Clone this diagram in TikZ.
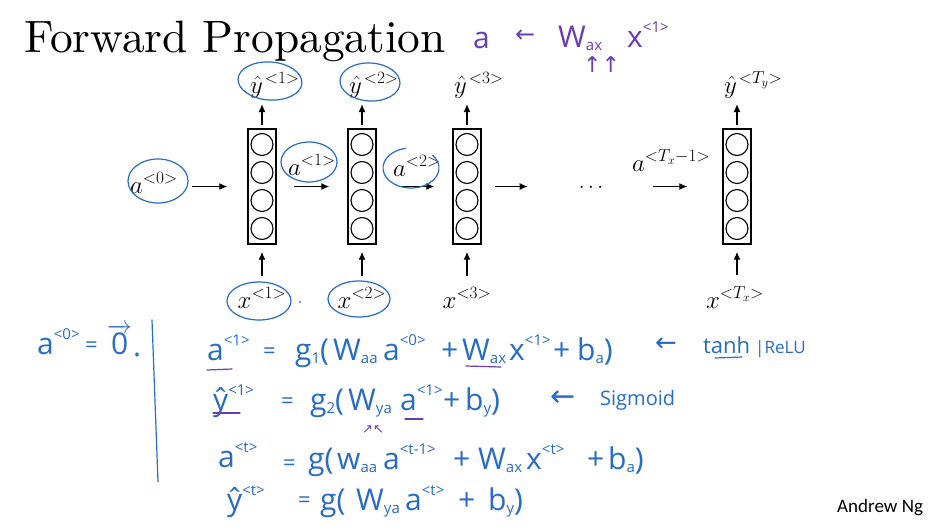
\documentclass[tikz,border=0pt]{standalone}
\usepackage{fontspec}
\newfontfamily\hw{Open Sans}
\newfontfamily\ngf{Carlito}
\newfontfamily\arrf{DejaVu Sans}
\newfontfamily\titlef{lmroman10-regular.otf}
\usetikzlibrary{arrows.meta}
\DeclareMathSizes{27}{27}{17}{12}
\definecolor{hblue}{RGB}{40,108,196}
\definecolor{hpurp}{RGB}{104,62,178}
\newcommand\hsp[1]{\raisebox{15pt}{\fontsize{15}{15}\selectfont #1}}
\newcommand\hsb[1]{\raisebox{-3pt}{\fontsize{15}{15}\selectfont #1}}
\begin{document}
\begin{tikzpicture}[x=1pt,y=-1pt,
  cellbox/.style={draw, line width=1.4pt, minimum width=28pt, minimum height=115pt, inner sep=0pt},
  neuron/.style={draw, circle, line width=1.1pt, minimum size=22pt, inner sep=0pt},
  arr/.style={-{Latex[length=8pt,width=7pt]}, line width=1.3pt},
  lbl/.style={font=\fontsize{27}{30}\selectfont, inner sep=0pt, anchor=base west},
  hwt/.style={text=hblue, inner sep=0pt, anchor=base west, font=\hw\fontsize{30}{34}\selectfont},
  hwp/.style={hwt, text=hpurp},
  heq/.style={hwt, font=\hw\fontsize{22}{22}\selectfont},
  harr/.style={hwt, font=\arrf\fontsize{26}{26}\selectfont},
  ring/.style={draw=hblue, line width=1.2pt},
  hmark/.style={line width=1.2pt, line cap=round}]
\fill[white] (0,0) rectangle (930,531);
\useasboundingbox (0,0) rectangle (930,531);

% title
\node[anchor=base west, inner sep=0pt, font=\titlef\fontsize{45.4}{50}\selectfont] (title) at (24,52) {Forward Propagation};
\node[anchor=base west, inner sep=0pt, font=\ngf\fontsize{19}{22}\selectfont] (ng) at (837,512) {Andrew Ng};

% cells
\foreach \i/\x in {1/262,2/362,3/467,4/737}{
  \node[cellbox] (c\i) at (\x,186.5) {};
  \foreach \j/\dy in {1/-42,2/-14,3/14,4/42}
    \node[neuron] (c\i n\j) at (\x,{186.5+\dy}) {};
}

% labels
\node[lbl] (y1) at (250,93) {$\hat{y}^{\mkern2mu<1>}$};
\node[lbl] (y2) at (349,93) {$\hat{y}^{\mkern2mu<2>}$};
\node[lbl] (y3) at (454,93) {$\hat{y}^{\mkern2mu<3>}$};
\node[lbl] (y4) at (724,93) {$\hat{y}^{\mkern2mu<T_y>}$};
\node[lbl, anchor=base] (x1) at (262,308) {$x^{<1>}$};
\node[lbl, anchor=base] (x2) at (362,308) {$x^{<2>}$};
\node[lbl, anchor=base] (x3) at (467,308) {$x^{<3>}$};
\node[lbl, anchor=base] (x4) at (735,308) {$x^{<T_x>}$};
\node[lbl] (a0) at (130,193) {$a^{<0>}$};
\node[lbl] (a1) at (288,175) {$a^{<1>}$};
\node[lbl] (a2) at (393,176) {$a^{<2>}$};
\node[lbl] (aT) at (632,171) {$a^{<T_x-1>}$};
\node[inner sep=0pt, font=\fontsize{22}{22}\selectfont] (dots) at (591,188) {$\cdots$};

% arrows
\foreach \i in {1,2,3,4}{
  \draw[arr, shorten <=3pt, shorten >=6pt] (c\i.north) -- (c\i.north |- y\i.south);
  \draw[arr, shorten <=12pt, shorten >=7pt] (c\i.south |- x\i.north) -- (c\i.south);
}
\draw[arr, shorten <=14pt, shorten >=20pt] (c1.west -| a0.east) -- (c1.west);
\draw[arr, shorten <=17pt, shorten >=18pt] (c1.east) -- (c2.west);
\draw[arr, shorten <=24pt, shorten >=18pt] (c2.east) -- (c3.west);
\draw[arr, shorten <=13pt, shorten >=51pt] (c3.east) -- (c3.east -| dots.west);
\draw[arr, shorten <=50pt, shorten >=35pt] (c4.west -| dots.east) -- (c4.west);

% hand-drawn rings
\draw[ring, rotate around={-4:(270,81)}] (270,81) ellipse [x radius=32, y radius=19];
\draw[ring, rotate around={-3:(370,82)}] (370,82) ellipse [x radius=30, y radius=19];
\draw[ring] (158,181) ellipse [x radius=30, y radius=22];
\draw[ring] (309,162) ellipse [x radius=28, y radius=20];
\draw[ring] (411,168) ++({28*cos(-40)},{20*sin(-40)}) arc[start angle=-40, end angle=260, x radius=28, y radius=20];
\draw[ring] (259,301) ellipse [x radius=32, y radius=19];
\draw[ring] (359,299) ellipse [x radius=31, y radius=18];
\fill[hblue!70!gray] (300,302) circle (1.2pt);

% purple note at top
\node[hwp] (p1) at (473,48) {a};
\node[hwp, font=\arrf\fontsize{24}{24}\selectfont] (p2) at (515,42) {←};
\node[hwp] (p3) at (558,47) {W\hsb{ax}};
\node[hwp] (p4) at (627,47) {x\hsp{<1>}};
\node[hwp, font=\arrf\fontsize{22}{22}\selectfont] (p5) at (583,72) {↑↑};

% left
\node[hwt] (l0a) at (37,354) {a\hsp{<0>}};
\node[heq] (l0b) at (85,352) {=};
\node[hwt] (l0c) at (107,354) {$\overrightarrow{\hbox{0}}$};
\node[hwt] (l0d) at (133,356) {.};
\draw[hblue, hmark] (152,320) -- (158,482);

% line 1
\node[hwt] (l1a) at (207,360) {a\hsp{<1>}};
\node[heq] (l1b) at (263,358) {=};
\node[hwt] (l1c) at (295,360) {g\hsb{1}(};
\node[hwt] (l1d) at (333,360) {W\hsb{aa}};
\node[hwt] (l1e) at (383,360) {a\hsp{<0>}};
\node[hwt] (l1f) at (441,360) {+};
\node[hwt] (l1g) at (462,360) {W\hsb{ax}};
\node[hwt] (l1h) at (509,360) {x\hsp{<1>}};
\node[hwt] (l1i) at (553,360) {+};
\node[hwt] (l1j) at (577,360) {b\hsb{a})};
\node[harr] (l1k) at (655,351) {←};
\node[hwt, font=\hw\fontsize{22}{22}\selectfont] (l1l) at (703,353) {tanh};
\node[hwt, font=\hw\fontsize{17}{17}\selectfont] (l1m) at (755,353) {|ReLU};

% line 2
\node[hwt] (l2a) at (213,410) {ŷ\hsp{<1>}};
\node[heq] (l2b) at (281,408) {=};
\node[hwt] (l2c) at (310,410) {g\hsb{2}(};
\node[hwt] (l2d) at (348,410) {W\hsb{ya}};
\node[hwt] (l2e) at (400,410) {a\hsp{<1>}};
\node[hwt] (l2f) at (443,410) {+};
\node[hwt] (l2g) at (465,410) {b\hsb{y})};
\node[harr, font=\arrf\fontsize{30}{30}\selectfont] (l2h) at (550,406) {←};
\node[hwt, font=\hw\fontsize{20}{20}\selectfont] (l2i) at (600,405) {Sigmoid};

% line 3
\node[hwt] (l3a) at (218,467) {a\hsp{<t>}};
\node[heq] (l3b) at (283,470) {=};
\node[hwt] (l3c) at (308,469) {g(};
\node[hwt] (l3d) at (337,469) {w\hsb{aa}};
\node[hwt] (l3e) at (383,469) {a\hsp{<t-1>}};
\node[hwt] (l3f) at (453,469) {+};
\node[hwt] (l3g) at (478,469) {W\hsb{ax}};
\node[hwt] (l3h) at (526,469) {x\hsp{<t>}};
\node[hwt] (l3i) at (587,469) {+};
\node[hwt] (l3j) at (608,469) {b\hsb{a})};

% line 4
\node[hwt] (l4a) at (227,510) {ŷ\hsp{<t>}};
\node[heq] (l4b) at (298,507) {=};
\node[hwt] (l4c) at (320,510) {g(};
\node[hwt] (l4d) at (356,510) {W\hsb{ya}};
\node[hwt] (l4e) at (405,510) {a\hsp{<t>}};
\node[hwt] (l4f) at (458,510) {+};
\node[hwt] (l4g) at (488,510) {b\hsb{y})};

% marks
\draw[hpurp, hmark] (207,370) -- (232,369);
\draw[hpurp, hmark] (213,413) -- (240,413);
\draw[hpurp, hmark] (466,366) -- (501,367);
\draw[hblue, hmark] (715,358) -- (742,357);
\draw[hpurp, hmark] (405,419) -- (423,419);
\node[hwp, font=\arrf\fontsize{13}{13}\selectfont] (l2m) at (362,433) {↗↖};
\end{tikzpicture}
\end{document}
